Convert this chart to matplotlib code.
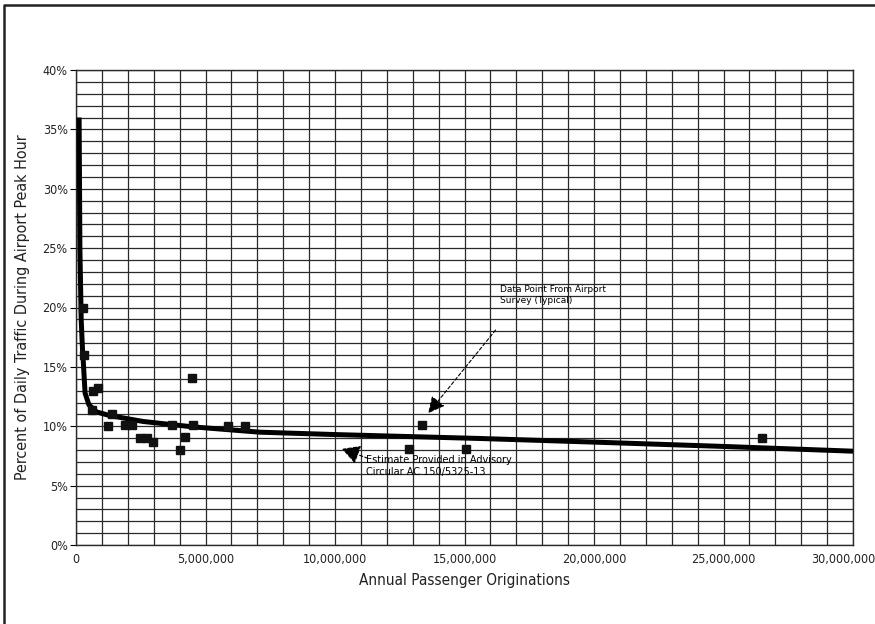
import matplotlib
matplotlib.use("Agg")
import matplotlib.pyplot as plt
from matplotlib.lines import Line2D
from matplotlib.ticker import MultipleLocator, FuncFormatter

# airport survey points (annual originations, peak hour %)
survey_x = [280000, 320000, 670000, 860000, 600000, 1380000, 1220000, 1890000, 2150000,
            2470000, 2750000, 2960000, 3720000, 4200000, 4000000, 4490000, 4530000,
            5880000, 6530000, 12860000, 13350000, 15060000, 26470000]
survey_y = [20.0, 16.0, 13.0, 13.25, 11.4, 11.0, 10.0, 10.1, 10.1,
            9.0, 9.0, 8.7, 10.1, 9.1, 8.0, 14.05, 10.1,
            10.0, 10.0, 8.1, 10.1, 8.1, 9.05]

# advisory circular estimate curve
est_x = [120000, 150000, 200000, 250000, 280000, 350000, 500000, 800000, 1300000,
         2600000, 4500000, 7100000, 10000000, 15600000, 20200000, 25000000, 30000000]
est_y = [36.0, 25.0, 19.0, 16.5, 15.5, 12.8, 11.8, 11.2, 10.9,
         10.4, 9.95, 9.5, 9.3, 8.97, 8.65, 8.3, 7.9]

fnt = 'DejaVu Sans'
xmax = 30000000

fig = plt.figure(figsize=(8.75, 6.24), dpi=100)
ax = fig.add_axes([76 / 875, 1 - 545 / 624, 777 / 875, 475 / 624])

ax.set_xlim(0, xmax)
ax.set_ylim(0, 40)
ax.xaxis.set_major_locator(MultipleLocator(5000000))
ax.xaxis.set_minor_locator(MultipleLocator(1000000))
ax.yaxis.set_major_locator(MultipleLocator(5))
ax.yaxis.set_minor_locator(MultipleLocator(1))
# the last label is drawn by hand, a bit to the left, so it stays on the page
ax.xaxis.set_major_formatter(FuncFormatter(lambda v, p: "" if v >= xmax else f"{int(v):,}"))
ax.yaxis.set_major_formatter(FuncFormatter(lambda v, p: f"{int(v)}%"))
ax.grid(True, which='both', color='#2a2a2a', lw=0.9)
ax.set_axisbelow(True)
ax.tick_params(axis='x', which='both', length=0, pad=6, labelsize=9, labelcolor='#222222')
ax.tick_params(axis='y', which='major', length=4, pad=2, labelsize=9, labelcolor='#222222')
ax.tick_params(axis='y', which='minor', length=0)
for lab in ax.get_xticklabels() + ax.get_yticklabels():
    lab.set_family(fnt)
    lab.set_stretch('condensed')
for s in ax.spines.values():
    s.set_color('#2a2a2a')
    s.set_linewidth(1.0)

ax.annotate(f"{xmax:,}", xy=(xmax, 0), xycoords='data', xytext=(-10, -8),
            textcoords='offset pixels', ha='center', va='top', fontsize=9,
            family=fnt, stretch='condensed', color='#222222', annotation_clip=False)

ax.plot(est_x, est_y, color='black', lw=3.6, solid_capstyle='butt', zorder=3)
ax.plot(survey_x, survey_y, ls='none', marker='s', ms=6, color='#111111', zorder=4)

ax.annotate('', xy=(13600000, 11.1), xytext=(16200000, 18.1),
            arrowprops=dict(arrowstyle='-|>,head_length=1.0,head_width=0.5', color='black',
                            lw=0.8, ls=(0, (3, 2)), shrinkA=0, shrinkB=0), zorder=5)
ax.text(16370000, 21.9, 'Data Point From Airport\nSurvey (Typical)', fontsize=6.5,
        ha='left', va='top', linespacing=1.3, zorder=5)

ax.annotate('', xy=(10270000, 8.1), xytext=(11270000, 7.3),
            arrowprops=dict(arrowstyle='-|>,head_length=1.1,head_width=0.6', color='black',
                            lw=0.8, ls=(0, (3, 2)), shrinkA=0, shrinkB=0), zorder=5)
ax.text(11200000, 7.6, 'Estimate Provided in Advisory\nCircular AC 150/5325-13', fontsize=7,
        ha='left', va='top', linespacing=1.3, zorder=5)

ax.set_xlabel('Annual Passenger Originations', family=fnt, stretch='condensed', fontsize=11,
              labelpad=5, color='#222222')
ax.set_ylabel('Percent of Daily Traffic During Airport Peak Hour', family=fnt, stretch='condensed',
              fontsize=11.5, labelpad=9, color='#222222')

# page frame (top and left edges of the scanned box)
fig.add_artist(Line2D([4 / 875, 4 / 875, 1.0], [0.0, 1 - 5 / 624, 1 - 5 / 624],
                      transform=fig.transFigure, color='#222222', lw=1.8))

fig.savefig('out.png', dpi=100)
